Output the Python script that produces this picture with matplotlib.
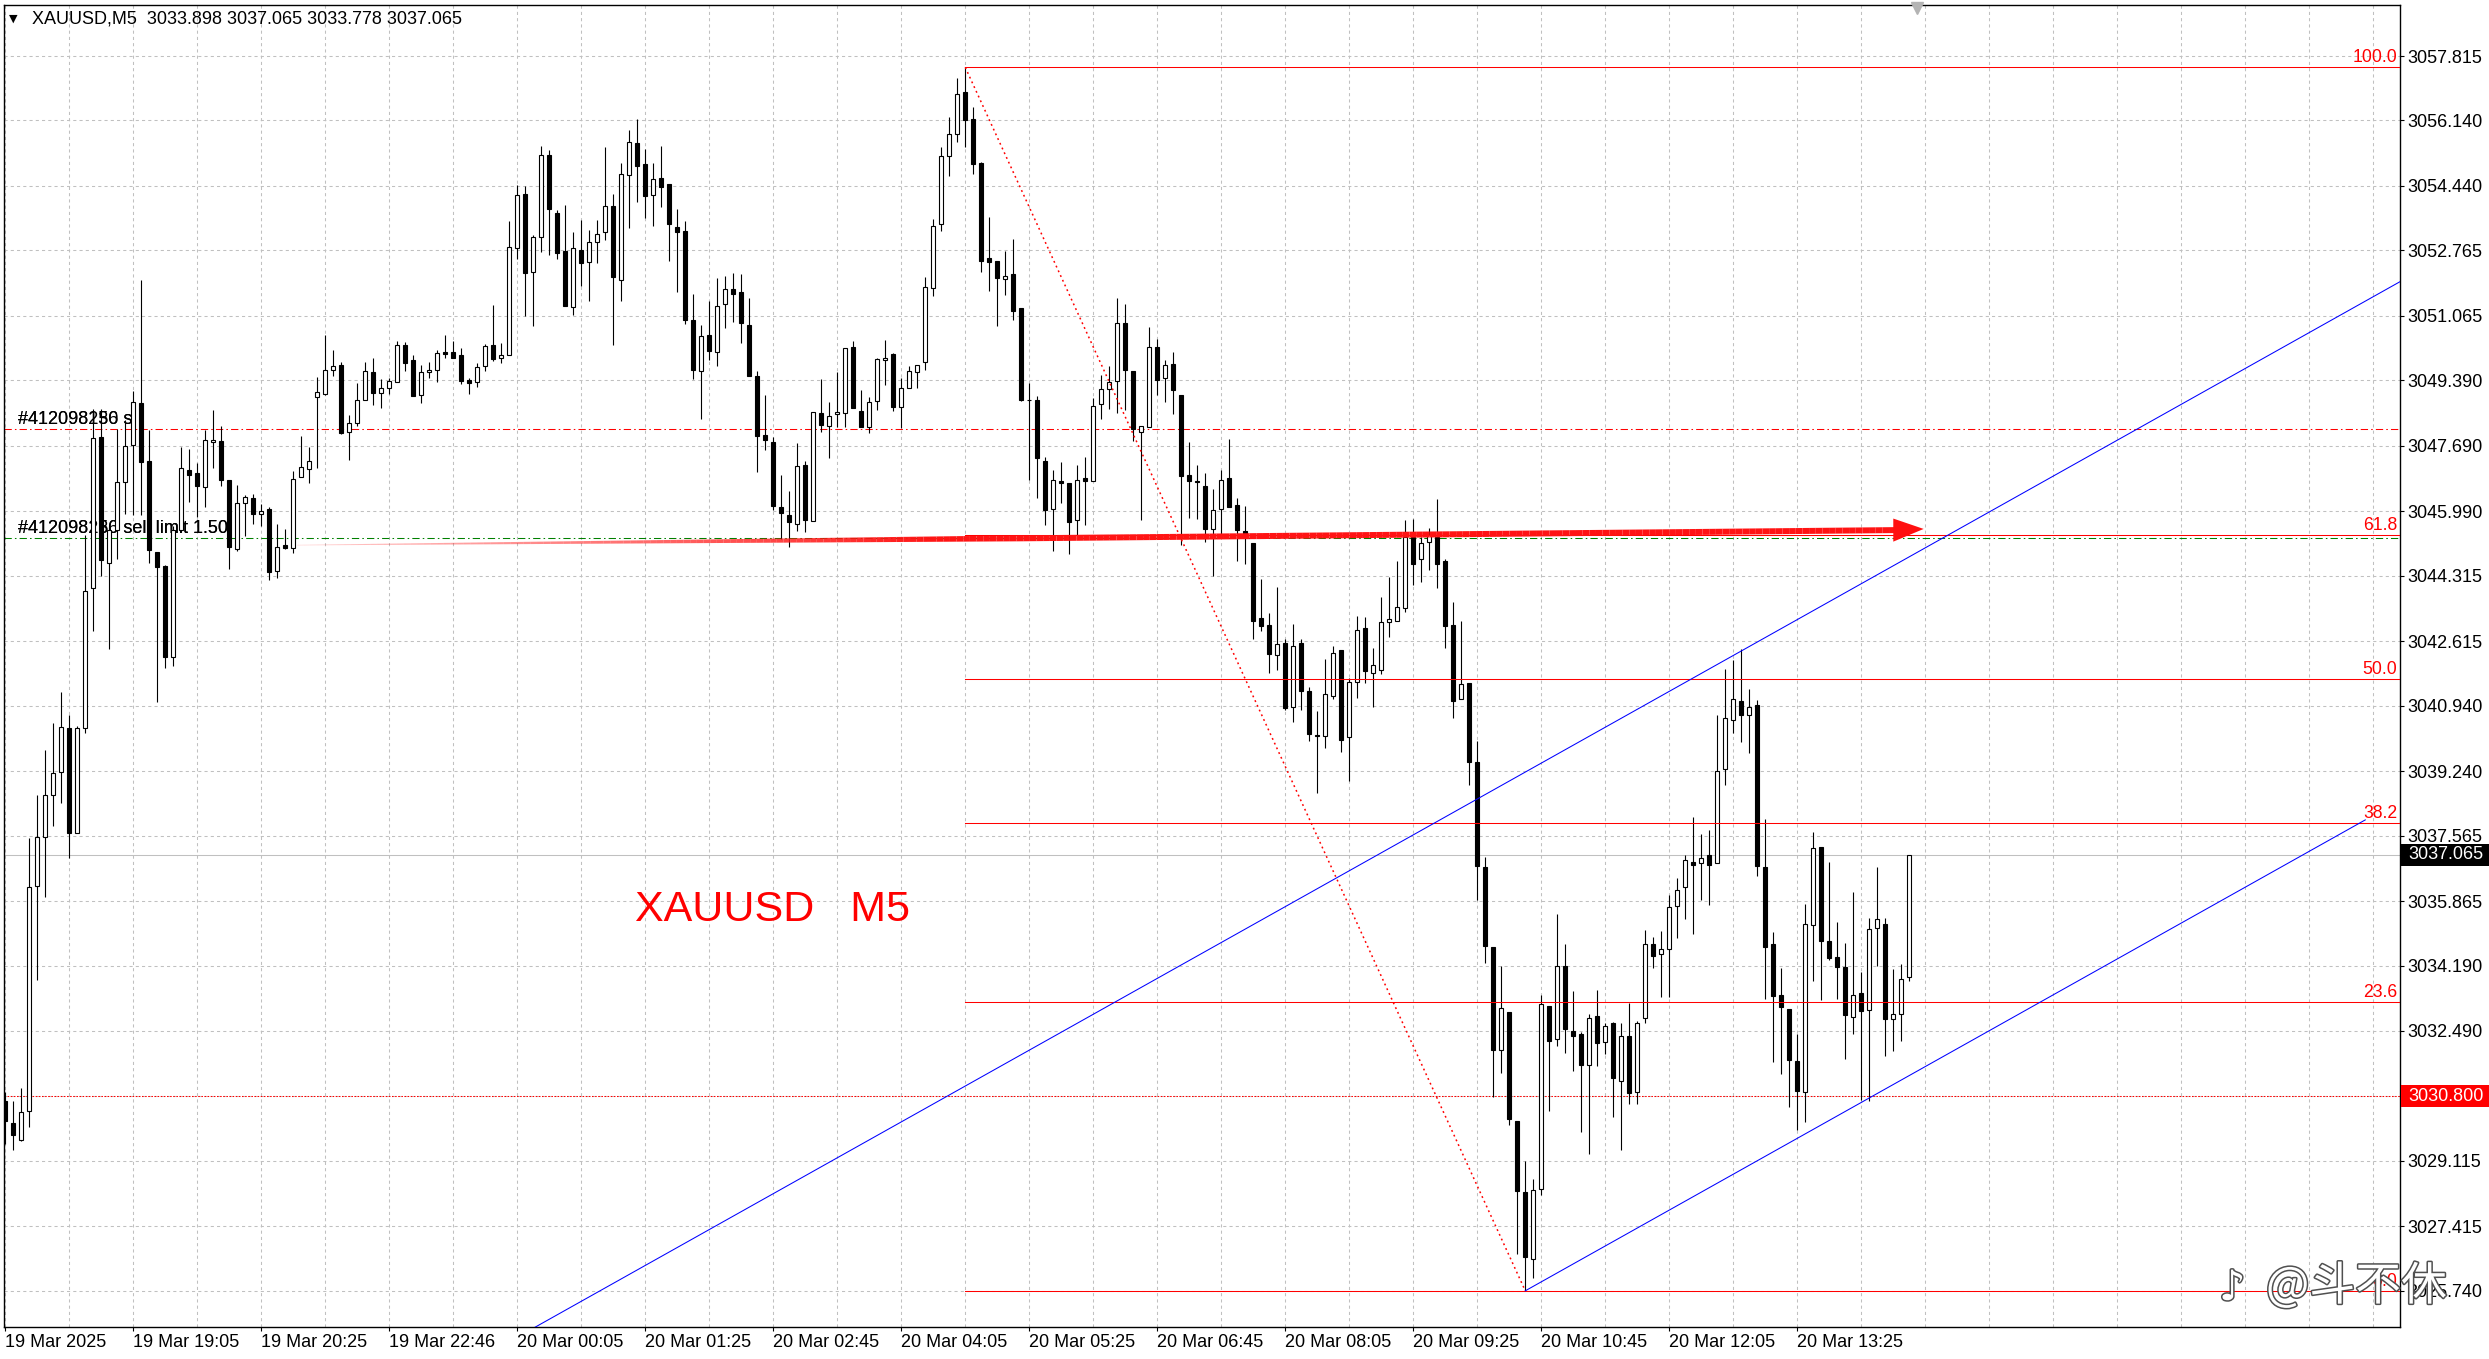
import matplotlib
matplotlib.use("Agg")
import matplotlib.pyplot as plt
import matplotlib.transforms as mtransforms
import matplotlib.patheffects as pe
from matplotlib.collections import LineCollection
from matplotlib.patches import Rectangle, Polygon
import numpy as np

W, H = 2489, 1359
DPI = 100
FONT = ["Liberation Sans", "DejaVu Sans"]

# XAUUSD M5 bars, 19 Mar 17:45 .. 20 Mar 14:35
opens = [
    3030.66, 3030.11, 3029.67, 3030.42, 3036.25, 3037.54, 3038.61, 3039.21, 3040.37, 3037.62,
    3040.37, 3043.99, 3047.93, 3044.65, 3045.49, 3046.76, 3047.72, 3048.81, 3047.30, 3044.94,
    3044.56, 3042.20, 3045.50, 3047.06, 3046.98, 3046.62, 3047.80, 3047.82, 3046.80, 3045.02,
    3046.20, 3046.34, 3045.93, 3046.06, 3044.43, 3045.11, 3045.03, 3046.89, 3047.08, 3048.95,
    3049.03, 3049.65, 3049.78, 3048.04, 3048.29, 3048.89, 3049.60, 3049.07, 3049.18, 3049.36,
    3050.30, 3049.92, 3049.00, 3049.60, 3049.65, 3050.12, 3050.12, 3050.04, 3049.39, 3049.34,
    3049.75, 3050.30, 3049.96, 3050.04, 3052.82, 3054.22, 3052.21, 3053.11, 3055.24, 3053.73,
    3052.75, 3051.29, 3052.77, 3052.46, 3052.98, 3053.24, 3053.91, 3051.99, 3054.72, 3055.55,
    3055.01, 3054.20, 3054.64, 3054.49, 3053.37, 3053.27, 3050.95, 3049.63, 3050.56, 3050.13,
    3051.37, 3051.76, 3051.69, 3050.83, 3049.51, 3047.98, 3047.80, 3046.11, 3045.89, 3045.67,
    3047.20, 3045.74, 3048.54, 3048.21, 3048.51, 3048.53, 3050.25, 3048.60, 3048.17, 3048.85,
    3049.92, 3050.07, 3048.70, 3049.19, 3049.61, 3049.87, 3051.78, 3053.45, 3055.21, 3055.79,
    3056.88, 3056.19, 3055.03, 3052.56, 3052.48, 3052.02, 3052.15, 3051.28, 3048.88, 3048.88,
    3047.30, 3046.06, 3046.78, 3046.72, 3045.75, 3046.86, 3046.78, 3048.77, 3049.16, 3049.38,
    3050.87, 3049.64, 3048.05, 3048.17, 3050.25, 3049.45, 3049.82, 3049.02, 3046.93, 3046.78,
    3046.64, 3045.53, 3046.06, 3046.86, 3046.16, 3045.47, 3045.16, 3043.22, 3043.04, 3042.26,
    3042.58, 3040.90, 3042.58, 3041.31, 3040.18, 3040.15, 3041.20, 3042.39, 3040.13, 3041.56,
    3042.97, 3041.79, 3041.87, 3043.10, 3043.13, 3043.48, 3045.31, 3044.75, 3045.19, 3045.31,
    3044.69, 3043.04, 3041.11, 3041.52, 3039.47, 3036.74, 3034.68, 3032.00, 3032.98, 3030.16,
    3028.31, 3026.57, 3028.38, 3033.13, 3032.29, 3034.19, 3032.49, 3032.42, 3031.60, 3032.88,
    3032.21, 3032.70, 3031.20, 3032.37, 3030.90, 3032.82, 3034.76, 3034.50, 3034.63, 3035.74,
    3036.23, 3036.89, 3036.84, 3037.07, 3036.86, 3039.29, 3040.58, 3041.07, 3040.69, 3040.95,
    3036.76, 3034.74, 3033.43, 3033.07, 3031.72, 3030.90, 3035.23, 3037.27, 3034.82, 3034.41,
    3034.14, 3032.86, 3033.48, 3033.04, 3035.17, 3035.27, 3032.80, 3032.92, 3033.898,
]
highs = [
    3030.90, 3030.66, 3031.01, 3037.51, 3038.61, 3039.79, 3040.50, 3041.29, 3040.69, 3040.42,
    3045.38, 3048.65, 3048.65, 3045.61, 3048.12, 3048.37, 3049.11, 3051.99, 3048.10, 3044.94,
    3044.59, 3045.61, 3047.66, 3047.61, 3047.24, 3048.10, 3048.61, 3048.21, 3046.80, 3046.67,
    3046.40, 3046.43, 3046.17, 3046.09, 3045.66, 3045.54, 3047.03, 3047.94, 3047.66, 3049.47,
    3050.57, 3050.18, 3049.86, 3048.49, 3049.31, 3049.86, 3049.98, 3049.42, 3049.46, 3050.41,
    3050.38, 3050.04, 3049.78, 3049.86, 3050.18, 3050.57, 3050.41, 3050.22, 3049.46, 3049.84,
    3050.34, 3051.35, 3050.35, 3053.53, 3054.46, 3054.44, 3053.17, 3055.48, 3055.37, 3053.82,
    3053.95, 3053.24, 3053.56, 3053.30, 3053.56, 3055.44, 3054.22, 3055.03, 3055.89, 3056.18,
    3055.39, 3055.04, 3055.48, 3054.49, 3053.85, 3053.53, 3051.63, 3050.83, 3051.44, 3052.06,
    3052.10, 3052.18, 3052.14, 3051.54, 3049.64, 3049.00, 3047.92, 3046.94, 3046.52, 3047.75,
    3047.30, 3048.57, 3049.43, 3048.82, 3049.60, 3050.23, 3050.42, 3049.13, 3048.96, 3049.98,
    3050.44, 3050.10, 3049.46, 3049.77, 3049.79, 3052.08, 3053.58, 3055.44, 3056.22, 3057.24,
    3057.52, 3056.50, 3055.07, 3053.64, 3052.48, 3052.75, 3053.06, 3051.28, 3049.33, 3048.98,
    3047.39, 3047.05, 3047.27, 3046.72, 3047.18, 3047.39, 3048.94, 3049.54, 3049.75, 3051.53,
    3051.37, 3049.64, 3048.20, 3050.78, 3050.47, 3049.91, 3050.13, 3049.02, 3047.80, 3047.20,
    3046.99, 3046.58, 3047.05, 3047.86, 3046.34, 3046.12, 3045.16, 3044.22, 3043.35, 3044.01,
    3042.67, 3043.05, 3042.66, 3041.43, 3040.80, 3042.16, 3042.48, 3042.39, 3041.67, 3043.28,
    3043.23, 3042.43, 3043.76, 3044.28, 3044.71, 3045.77, 3045.78, 3045.31, 3045.56, 3046.30,
    3044.75, 3043.63, 3043.15, 3041.52, 3040.01, 3037.02, 3034.68, 3034.17, 3032.98, 3030.16,
    3029.12, 3028.65, 3033.43, 3033.13, 3035.54, 3034.76, 3033.53, 3032.45, 3032.92, 3033.56,
    3032.70, 3032.73, 3032.70, 3033.22, 3032.76, 3035.12, 3034.94, 3035.09, 3036.03, 3036.47,
    3037.07, 3038.06, 3037.60, 3037.72, 3040.70, 3041.89, 3042.13, 3042.40, 3041.37, 3041.09,
    3038.00, 3035.05, 3034.13, 3033.07, 3032.42, 3035.79, 3037.66, 3037.27, 3036.89, 3035.33,
    3034.78, 3036.10, 3034.02, 3035.42, 3036.74, 3035.42, 3034.11, 3034.23, 3037.065,
]
lows = [
    3029.56, 3029.40, 3029.64, 3030.00, 3033.81, 3035.97, 3037.82, 3038.42, 3036.99, 3037.62,
    3040.22, 3042.89, 3044.32, 3042.42, 3044.75, 3045.93, 3045.90, 3045.90, 3044.64, 3041.03,
    3041.92, 3041.96, 3045.46, 3046.24, 3045.85, 3046.09, 3047.11, 3046.64, 3044.48, 3044.95,
    3045.35, 3045.66, 3045.61, 3044.20, 3044.26, 3045.01, 3044.91, 3046.87, 3046.72, 3047.11,
    3049.00, 3049.49, 3047.99, 3047.31, 3048.21, 3048.89, 3048.75, 3048.68, 3049.04, 3049.36,
    3049.62, 3048.99, 3048.79, 3049.44, 3049.36, 3049.98, 3049.98, 3049.30, 3049.04, 3049.23,
    3049.64, 3049.88, 3049.85, 3050.04, 3052.54, 3051.06, 3050.79, 3052.73, 3052.65, 3052.55,
    3051.31, 3051.09, 3051.85, 3051.45, 3052.45, 3053.04, 3050.31, 3051.46, 3053.36, 3054.01,
    3053.62, 3053.41, 3053.88, 3052.48, 3051.69, 3050.85, 3049.42, 3048.39, 3049.92, 3049.75,
    3050.76, 3050.90, 3050.35, 3049.51, 3047.00, 3047.58, 3046.03, 3045.28, 3045.05, 3045.48,
    3045.46, 3045.74, 3048.05, 3047.37, 3048.17, 3048.17, 3048.68, 3048.17, 3048.01, 3048.62,
    3049.26, 3048.60, 3048.14, 3049.19, 3049.19, 3049.66, 3051.57, 3053.28, 3054.71, 3055.59,
    3055.46, 3054.76, 3052.21, 3051.71, 3050.81, 3051.61, 3050.97, 3048.85, 3046.80, 3046.33,
    3045.62, 3044.96, 3046.21, 3044.88, 3045.37, 3045.62, 3046.78, 3048.38, 3048.64, 3048.54,
    3048.63, 3047.82, 3045.75, 3048.17, 3049.02, 3048.83, 3048.51, 3045.12, 3045.81, 3045.78,
    3045.19, 3044.32, 3045.31, 3046.09, 3044.71, 3044.63, 3042.67, 3042.89, 3041.79, 3041.87,
    3040.83, 3040.52, 3040.83, 3040.03, 3038.68, 3039.84, 3041.11, 3039.74, 3038.97, 3041.15,
    3041.52, 3040.90, 3041.77, 3042.72, 3043.13, 3043.38, 3044.07, 3044.15, 3044.46, 3044.00,
    3042.45, 3040.61, 3041.11, 3038.88, 3035.88, 3034.25, 3030.77, 3031.41, 3030.04, 3026.69,
    3025.74, 3026.08, 3028.23, 3030.41, 3032.09, 3031.93, 3031.45, 3029.86, 3029.30, 3031.57,
    3031.90, 3030.25, 3029.39, 3030.59, 3030.59, 3032.70, 3034.13, 3033.37, 3033.37, 3034.90,
    3035.39, 3035.02, 3035.88, 3035.76, 3036.86, 3038.88, 3040.23, 3039.99, 3039.72, 3036.52,
    3033.33, 3031.69, 3031.37, 3030.52, 3029.92, 3030.12, 3033.78, 3033.29, 3034.33, 3033.31,
    3031.75, 3032.42, 3030.70, 3030.68, 3034.19, 3031.84, 3031.96, 3032.23, 3033.778,
]
closes = [
    3030.14, 3029.79, 3030.39, 3036.22, 3037.54, 3038.63, 3039.19, 3040.39, 3037.62, 3040.37,
    3043.93, 3047.90, 3044.72, 3045.49, 3046.75, 3047.69, 3048.84, 3047.28, 3044.99, 3044.54,
    3042.21, 3045.50, 3047.11, 3046.92, 3046.64, 3047.85, 3047.85, 3046.80, 3045.06, 3046.21,
    3046.37, 3045.93, 3045.99, 3044.40, 3045.05, 3045.03, 3046.84, 3047.14, 3047.30, 3049.08,
    3049.66, 3049.76, 3048.03, 3048.29, 3048.87, 3049.63, 3049.07, 3049.18, 3049.37, 3050.30,
    3049.85, 3048.99, 3049.60, 3049.65, 3050.09, 3050.08, 3049.98, 3049.37, 3049.31, 3049.73,
    3050.27, 3049.94, 3050.04, 3052.85, 3054.20, 3052.19, 3053.11, 3055.24, 3053.83, 3052.71,
    3051.31, 3052.82, 3052.43, 3052.98, 3053.18, 3053.91, 3052.08, 3054.74, 3055.57, 3054.97,
    3054.19, 3054.61, 3054.42, 3053.44, 3053.24, 3050.97, 3049.66, 3050.55, 3050.14, 3051.32,
    3051.76, 3051.63, 3050.87, 3049.51, 3047.94, 3047.84, 3046.12, 3045.95, 3045.72, 3047.17,
    3045.77, 3048.57, 3048.22, 3048.47, 3048.57, 3050.23, 3048.68, 3048.17, 3048.83, 3049.94,
    3049.97, 3048.69, 3049.19, 3049.63, 3049.79, 3051.81, 3053.39, 3055.21, 3055.79, 3056.84,
    3056.15, 3055.01, 3052.50, 3052.47, 3052.05, 3052.09, 3051.19, 3048.88, 3048.87, 3047.36,
    3046.02, 3046.80, 3046.72, 3045.71, 3046.80, 3046.77, 3048.73, 3049.16, 3049.35, 3050.87,
    3049.66, 3048.13, 3048.20, 3050.25, 3049.41, 3049.79, 3049.14, 3046.90, 3046.78, 3046.74,
    3045.52, 3046.03, 3046.80, 3046.09, 3045.50, 3045.31, 3043.13, 3043.01, 3042.29, 3042.54,
    3040.87, 3042.48, 3041.33, 3040.21, 3040.15, 3041.23, 3042.30, 3040.06, 3041.56, 3042.91,
    3041.83, 3041.99, 3043.11, 3043.20, 3043.51, 3045.31, 3044.63, 3045.16, 3045.37, 3044.63,
    3043.01, 3041.06, 3041.49, 3039.47, 3036.78, 3034.69, 3032.00, 3033.09, 3030.19, 3028.32,
    3026.61, 3028.35, 3033.19, 3032.23, 3034.19, 3032.54, 3032.37, 3031.60, 3032.82, 3032.18,
    3032.61, 3031.26, 3032.35, 3030.88, 3032.70, 3034.74, 3034.45, 3034.62, 3035.72, 3036.15,
    3036.94, 3036.80, 3036.99, 3036.80, 3039.25, 3040.62, 3041.11, 3040.70, 3040.91, 3036.78,
    3034.66, 3033.40, 3033.10, 3031.74, 3030.92, 3035.27, 3037.23, 3034.82, 3034.39, 3034.14,
    3032.91, 3033.43, 3033.00, 3035.15, 3035.39, 3032.80, 3032.94, 3033.84, 3037.065,
]

# axis labels
price_ticks = [3057.815, 3056.140, 3054.440, 3052.765, 3051.065, 3049.390, 3047.690,
               3045.990, 3044.315, 3042.615, 3040.940, 3039.240, 3037.565, 3035.865,
               3034.190, 3032.490, 3030.800, 3029.115, 3027.415, 3025.740]
time_labels = ["19 Mar 2025", "19 Mar 19:05", "19 Mar 20:25", "19 Mar 22:46",
               "20 Mar 00:05", "20 Mar 01:25", "20 Mar 02:45", "20 Mar 04:05",
               "20 Mar 05:25", "20 Mar 06:45", "20 Mar 08:05", "20 Mar 09:25",
               "20 Mar 10:45", "20 Mar 12:05", "20 Mar 13:25"]

# drawn objects
fib_high_bar, fib_high = 120, 3057.52
fib_low_bar, fib_low = 190, 3025.74
fib_levels = [1.0, 0.618, 0.5, 0.382, 0.236, 0.0]
fib_names = ["100.0", "61.8", "50.0", "38.2", "23.6", "0.0"]

channel_slope = 0.1165            # price per bar
upper_anchor = (217, 3042.36)
lower_start = (190, 3025.74)
lower_end_bar = 295

sl_price = 3048.13
limit_price = 3045.29
alert_price = 3030.80
bid_price = 3037.065

arrow_start = (36.5, 3045.11)
arrow_end = (236.3, 3045.50)
arrow_tip = (239.8, 3045.53)

caption_pos = (78.7, 3035.63)

# ---------------------------------------------------------------------------
fig = plt.figure(figsize=(W / DPI, H / DPI), dpi=DPI)
ax = fig.add_axes([4 / W, 1 - 1327 / H, 2396 / W, 1322 / H])
ax.set_xlim(-0.16, 299.34)
ax.set_ylim(3024.80, 3059.14)

for s in ax.spines.values():
    s.set_color("black")
    s.set_linewidth(1.0)

# grid
ax.set_xticks(np.arange(0, 16 * len(time_labels), 16))
ax.set_xticklabels(time_labels)
ax.set_xticks(np.arange(0, 300, 8), minor=True)
ax.set_yticks(price_ticks)
ax.set_yticklabels([f"{p:.3f}" if p != alert_price else "" for p in price_ticks])
ax.grid(which="both", axis="x", color="#c0c0c0", linestyle=(0, (3, 3)), linewidth=0.75, zorder=0)
ax.grid(which="major", axis="y", color="#c0c0c0", linestyle=(0, (3, 3)), linewidth=0.75, zorder=0)
ax.set_axisbelow(True)

ax.yaxis.tick_right()
ax.tick_params(axis="y", direction="out", length=3, width=0.8, pad=2.5, labelsize=13)
ax.tick_params(axis="x", which="major", direction="out", length=3, width=0.8, pad=2, labelsize=13)
ax.tick_params(axis="x", which="minor", length=0)
for lbl in ax.get_xticklabels():
    lbl.set_ha("left")
    lbl.set_family(FONT)
for lbl in ax.get_yticklabels():
    lbl.set_family(FONT)

# horizontal price lines
ax.axhline(sl_price, color="#ff0000", linestyle=(0, (7, 3, 1.5, 3)), linewidth=0.75, zorder=1)
ax.axhline(limit_price, color="#008000", linestyle=(0, (7, 3, 1.5, 3)), linewidth=0.75, zorder=1)
ax.axhline(alert_price, color="#ff0000", linestyle=(0, (1.5, 1.5)), linewidth=0.75, zorder=1)
ax.axhline(bid_price, color="#c0c0c0", linewidth=0.75, zorder=1)

for txt in ["#412098256 sl", "#412098130 sl"]:
    ax.annotate(txt, xy=(0, sl_price), xycoords=("axes fraction", "data"),
                xytext=(14, 5), textcoords="offset pixels", va="baseline",
                fontsize=13, family=FONT, color="black", zorder=1.5)
for txt in ["#412098256 sell limit 1.50", "#412098130 sell limit 1.50"]:
    ax.annotate(txt, xy=(0, limit_price), xycoords=("axes fraction", "data"),
                xytext=(14, 5), textcoords="offset pixels", va="baseline",
                fontsize=13, family=FONT, color="black", zorder=1.5)

# candles
o = np.array(opens)
hi = np.array(highs)
lo = np.array(lows)
c = np.array(closes)
x = np.arange(len(o))
up = c >= o
body_lo = np.minimum(o, c)
body_h = np.maximum(np.abs(c - o), 0.02)
ax.vlines(x, lo, hi, color="black", linewidth=0.8, zorder=3)
ax.bar(x[up], body_h[up], bottom=body_lo[up], width=0.52, facecolor="white",
       edgecolor="black", linewidth=0.8, zorder=4)
ax.bar(x[~up], body_h[~up], bottom=body_lo[~up], width=0.52, facecolor="black",
       edgecolor="black", linewidth=0.8, zorder=4)

# fibonacci retracement
xmax = ax.get_xlim()[1]
for lvl, name in zip(fib_levels, fib_names):
    p = fib_low + lvl * (fib_high - fib_low)
    ax.plot([fib_high_bar, xmax], [p, p], color="#ff0000", linewidth=0.75, zorder=5)
    ax.annotate(name, xy=(1, p), xycoords=("axes fraction", "data"),
                xytext=(-3, 5), textcoords="offset pixels", ha="right", va="baseline",
                fontsize=12.7, family=FONT, color="#ff0000", zorder=6)
ax.plot([fib_high_bar, fib_low_bar], [fib_high, fib_low], color="#ff0000",
        linestyle=(0, (1.2, 2.2)), linewidth=1.1, zorder=5)

# channel
ub = np.array([40, xmax])
ax.plot(ub, upper_anchor[1] + channel_slope * (ub - upper_anchor[0]), color="#0000ff",
        linewidth=0.75, zorder=5)
lb = np.array([lower_start[0], lower_end_bar])
ax.plot(lb, lower_start[1] + channel_slope * (lb - lower_start[0]), color="#0000ff",
        linewidth=0.75, zorder=5)

# tapered red arrow
n = 240
t = np.linspace(0, 1, n + 1)
ax_pts = arrow_start[0] + t * (arrow_end[0] - arrow_start[0])
ay_pts = arrow_start[1] + t * (arrow_end[1] - arrow_start[1])
segs = [[(ax_pts[i], ay_pts[i]), (ax_pts[i + 1], ay_pts[i + 1])] for i in range(n)]
tm = t[:-1]
widths = 0.4 + 3.9 * np.clip(tm / 0.45, 0, 1)
alphas = 0.2 + 0.8 * np.clip(tm / 0.4, 0, 1)
cols = [(1, 0.08, 0.08, a) for a in alphas]
lc = LineCollection(segs, linewidths=widths, colors=cols, capstyle="butt", zorder=6)
ax.add_collection(lc)
head = Polygon([(arrow_end[0] - 0.3, arrow_end[1] + 0.30), arrow_tip,
                (arrow_end[0] - 0.3, arrow_end[1] - 0.30)], closed=True,
               facecolor="#ff1010", edgecolor="none", zorder=6)
ax.add_patch(head)

# symbol caption
ax.text(caption_pos[0], caption_pos[1], "XAUUSD   M5", color="#ff0000", fontsize=31,
        family=FONT, va="center", ha="left", zorder=6)

# price boxes on the axis
tr = mtransforms.blended_transform_factory(fig.transFigure, ax.transData)
for price, face in [(bid_price, "black"), (alert_price, "#ff0000")]:
    ax.add_patch(Rectangle((2401 / W, price - 0.285), (W - 2401) / W, 0.57,
                           transform=tr, facecolor=face, edgecolor="none",
                           clip_on=False, zorder=7))
    ax.annotate(f"{price:.3f}", xy=(1, price), xycoords=("axes fraction", "data"),
                xytext=(8, 0), textcoords="offset pixels", va="center", ha="left",
                fontsize=13, family=FONT, color="white", zorder=8, annotation_clip=False)

# header
fig.text(9 / W, 1 - 19 / H, "\u25bc", fontsize=8, family=["DejaVu Sans"], va="center")
fig.text(32 / W, 1 - 19 / H, "XAUUSD,M5  3033.898 3037.065 3033.778 3037.065",
         fontsize=13, family=FONT, va="center")

# chart shift marker
ax.plot([239.0], [1 - 3 / 1322], marker="v", markersize=8, color="#b4b4b4",
        transform=mtransforms.blended_transform_factory(ax.transData, ax.transAxes),
        clip_on=False, zorder=8)

# watermark
wm_effects = [pe.withStroke(linewidth=2.2, foreground="#505050")]
fig.text(2219 / W, 1 - 1300 / H, "\u266a", fontsize=30, family=["DejaVu Sans"],
         color="white", va="baseline", ha="left", path_effects=wm_effects, zorder=10)
fig.text(2266 / W, 1 - 1300 / H, "@斗不休", fontsize=33,
         family=["Noto Sans CJK SC", "DejaVu Sans"], color="white",
         va="baseline", ha="left", path_effects=wm_effects, zorder=10)

fig.savefig("out.png", dpi=DPI)
